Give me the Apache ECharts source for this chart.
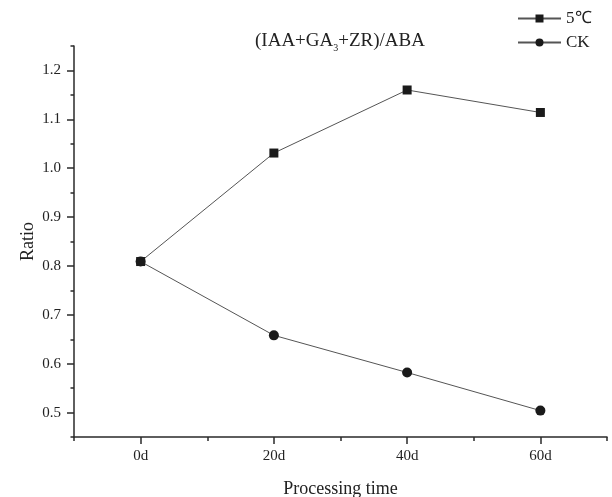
<!DOCTYPE html>
<html>
<head>
<meta charset="utf-8">
<script src="https://cdn.jsdelivr.net/npm/echarts@6/dist/echarts.min.js"></script>
<style>
html,body{margin:0;padding:0;background:#fff;}
#chart{width:612px;height:497px;}
</style>
</head>
<body>
<div id="chart"></div>
<script>
var categories = ['0d', '20d', '40d', '60d'];
var seriesNames = ['5\u2103', 'CK'];
var values5C = [0.809, 1.031, 1.160, 1.114];
var valuesCK = [0.809, 0.658, 0.582, 0.504];
var yMajorTicks = [0.5, 0.6, 0.7, 0.8, 0.9, 1.0, 1.1, 1.2];
var yMinorTicks = [0.45, 0.55, 0.65, 0.75, 0.85, 0.95, 1.05, 1.15, 1.25];
var xMajorTicks = [0, 1, 2, 3];
var xMinorTicks = [-0.5, 0.5, 1.5, 2.5, 3.5];

var FONT = '"Liberation Serif", "Times New Roman", serif';
var AX = '#2a2a2a';
var chart = echarts.init(document.getElementById('chart'), null, {renderer: 'canvas'});

function toPoints(vals) {
  return vals.map(function (v, i) { return [i, v]; });
}

var option = {
  backgroundColor: '#ffffff',
  animation: false,
  textStyle: {fontFamily: FONT},
  title: {
    text: '(IAA+GA{sub|3}+ZR)/ABA',
    left: 250,
    top: 24,
    textStyle: {
      fontFamily: FONT, fontSize: 19, fontWeight: 'normal', color: '#222',
      rich: {sub: {fontFamily: FONT, fontSize: 10, color: '#222', verticalAlign: 'bottom', padding: [14, 0, 0, 0]}}
    }
  },
  legend: {
    orient: 'vertical',
    left: 512,
    top: 5,
    itemWidth: 43,
    itemHeight: 10,
    itemGap: 7,
    data: seriesNames,
    textStyle: {fontFamily: FONT, fontSize: 17, color: '#222'}
  },
  grid: {left: 74, right: 5, top: 46, bottom: 60, outerBoundsMode: 'none', containLabel: false},
  xAxis: [{
    type: 'value', min: -0.5, max: 3.5, position: 'bottom',
    name: 'Processing time', nameLocation: 'middle', nameGap: 43, nameMoveOverlap: false,
    nameTextStyle: {fontFamily: FONT, fontSize: 18, color: '#222'},
    axisLine: {show: true, onZero: false, lineStyle: {color: AX, width: 1.5}},
    axisTick: {show: true, customValues: xMajorTicks, length: 7, lineStyle: {color: AX, width: 1.5}},
    axisLabel: {customValues: xMajorTicks, margin: 12, fontFamily: FONT, fontSize: 15, color: '#222',
      formatter: function (v) { return categories[Math.round(v)]; }},
    splitLine: {show: false}
  }, {
    type: 'value', min: -0.5, max: 3.5, position: 'bottom',
    axisLine: {show: false, onZero: false},
    axisTick: {show: true, customValues: xMinorTicks, length: 4, lineStyle: {color: AX, width: 1.5}},
    axisLabel: {show: false},
    splitLine: {show: false}
  }],
  yAxis: [{
    type: 'value', min: 0.45, max: 1.25, position: 'left',
    name: 'Ratio', nameLocation: 'middle', nameGap: 37, nameMoveOverlap: false,
    nameTextStyle: {fontFamily: FONT, fontSize: 18, color: '#222'},
    axisLine: {show: true, onZero: false, lineStyle: {color: AX, width: 1.5}},
    axisTick: {show: true, customValues: yMajorTicks, length: 7, lineStyle: {color: AX, width: 1.5}},
    axisLabel: {customValues: yMajorTicks, margin: 13, fontFamily: FONT, fontSize: 15, color: '#222',
      formatter: function (v) { return v.toFixed(1); }},
    splitLine: {show: false}
  }, {
    type: 'value', min: 0.45, max: 1.25, position: 'left',
    axisLine: {show: false, onZero: false},
    axisTick: {show: true, customValues: yMinorTicks, length: 3.5, lineStyle: {color: AX, width: 1.5}},
    axisLabel: {show: false},
    splitLine: {show: false}
  }],
  series: [{
    name: seriesNames[1],
    type: 'line',
    data: toPoints(valuesCK),
    symbol: 'circle',
    symbolSize: 10,
    z: 2,
    lineStyle: {color: '#555', width: 1},
    itemStyle: {color: '#1a1a1a'}
  }, {
    name: seriesNames[0],
    type: 'line',
    data: toPoints(values5C),
    symbol: 'rect',
    symbolSize: 9,
    z: 3,
    lineStyle: {color: '#555', width: 1},
    itemStyle: {color: '#1a1a1a'}
  }]
};
chart.setOption(option);
</script>
</body>
</html>
